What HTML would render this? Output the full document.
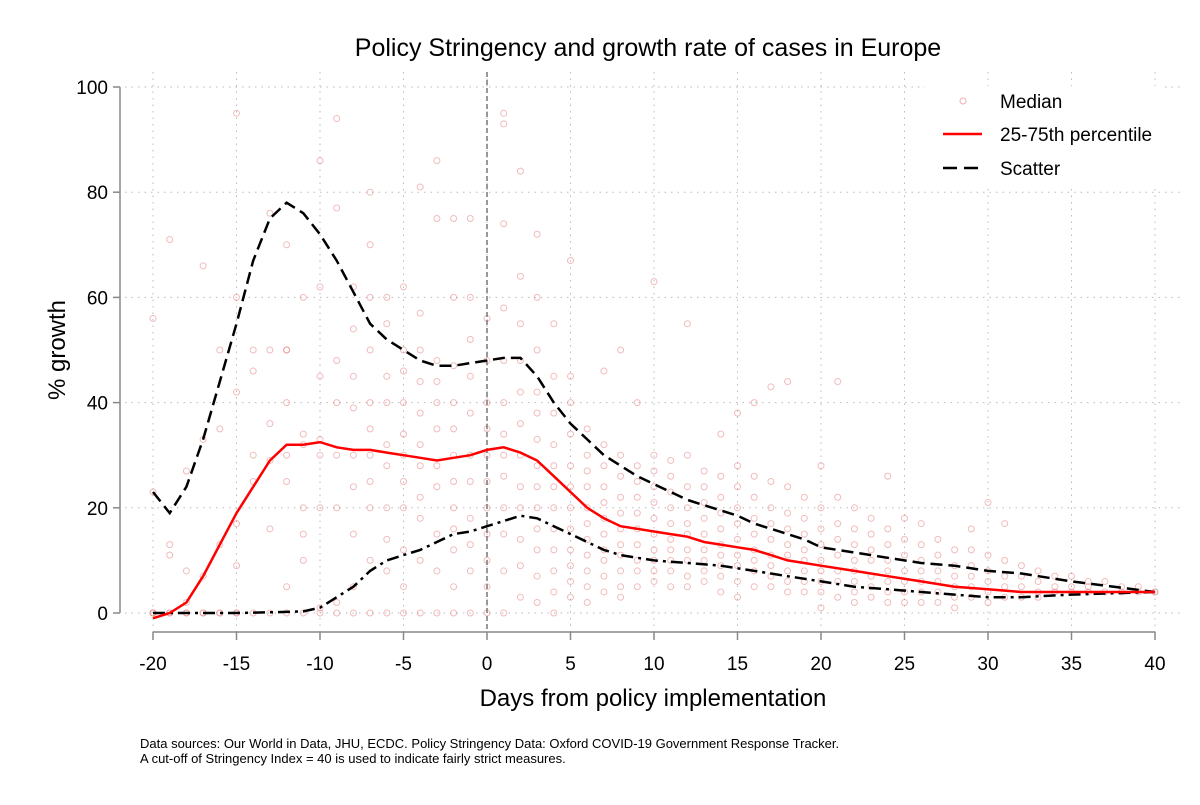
<!DOCTYPE html>
<html><head><meta charset="utf-8"><style>
body{margin:0;background:#fff;width:1200px;height:800px;overflow:hidden}
svg text{font-family:"Liberation Sans",sans-serif}
</style></head><body>
<svg id="c" width="1200" height="800"></svg>
<script>
const medianX=[-20,-19,-18,-17,-16,-15,-14,-13,-12,-11,-10,-9,-8,-7,-6,-5,-4,-3,-2,-1,0,1,2,3,4,5,6,7,8,9,10,11,12,13,14,15,16,17,18,19,20,22,24,26,28,30,32,35,40];
const medianY=[-1,0,2,7,13,19,24,29,32,32,32.5,31.5,31,31,30.5,30,29.5,29,29.5,30,31,31.5,30.5,29,26,23,20,18,16.5,16,15.5,15,14.5,13.5,13,12.5,12,11,10,9.5,9,8,7,6,5,4.5,4,4,4];
const upperX=[-20,-19,-18,-17,-16,-15,-14,-13,-12,-11,-10,-9,-8,-7,-6,-5,-4,-3,-2,-1,0,1,2,3,4,5,6,7,8,9,10,11,12,13,14,15,16,17,18,19,20,22,24,26,28,30,32,35,40];
const upperY=[23,19,24,33,44,55,67,75,78,76,72,67,61,55,52,50,48,47,47,47.5,48,48.5,48.5,45,40,36,33,30,28,26,24.5,23,21.5,20.5,19.5,18.5,17,16,15,14,12.5,11.5,10.5,9.5,9,8,7.5,6,4];
const lowerX=[-20,-15,-12,-11,-10,-9,-8,-7,-6,-5,-4,-3,-2,-1,0,1,2,3,4,5,6,7,8,9,10,12,14,16,18,20,22,24,26,28,30,32,35,40];
const lowerY=[0,0,0.2,0.3,1,3,5,8,10,11,12,13.5,15,15.5,16.5,17.5,18.5,18,16.5,15,13.5,12,11,10.5,10,9.5,9,8,7,6,5,4.5,4,3.5,3,3,3.5,4];
const scatterDays=[];const scatterVals=[];
const perDay={
"-20":[0,0,56,0,23],"-19":[0,71,13,11,0],"-18":[0,27,8,0,2],"-17":[0,66,7,0,33],"-16":[0,50,35,13,0],"-15":[95,0,60,42,17,9,0],"-14":[50,46,25,30,0],"-13":[50,76,36,16,0,29],"-12":[50,50,70,30,5,0,40,25],"-11":[34,32,15,10,0,60,20],"-10":[86,62,33,30,20,0,1,45],"-9":[94,77,48,40,30,20,2,0],"-8":[62,54,45,39,30,24,15,5,0],"-7":[80,70,60,50,40,35,30,25,20,10,0],"-6":[60,55,45,40,32,28,20,14,8,0],"-5":[62,50,46,40,34,30,25,20,12,5,0],"-4":[81,57,50,44,38,32,28,22,18,10,0],"-3":[86,75,48,44,40,35,28,24,15,8,0],"-2":[75,60,47,40,35,30,25,20,16,12,5,0],"-1":[75,60,52,45,38,30,25,18,13,8,0],
"0":[56,48,40,35,30,25,20,15,10,5,0],"1":[95,93,74,58,48,40,34,30,26,20,15,8,0],"2":[84,64,55,48,42,36,30,24,20,14,9,3],"3":[72,60,50,42,38,33,28,24,20,16,12,7,2],"4":[55,45,38,32,28,24,20,16,12,8,4,0],"5":[67,45,40,34,28,24,20,16,12,9,6,3],"6":[35,30,27,24,20,17,14,11,8,5,2],"7":[46,32,28,24,21,18,15,12,10,7,4],"8":[50,30,26,22,19,16,13,11,8,5,3],"9":[40,28,25,22,19,16,13,10,8,5],"10":[63,30,27,24,21,18,15,12,10,8,6],"11":[29,26,23,20,17,14,12,10,8,5],"12":[55,30,24,20,17,15,12,10,7,5],"13":[27,24,21,18,15,12,10,8,6],"14":[34,26,22,19,16,13,11,9,7,4],"15":[38,28,24,20,17,14,11,9,6,3],"16":[40,26,22,18,15,12,10,8,5],"17":[43,25,20,17,14,11,9,7,5],"18":[44,24,19,16,13,11,8,6,4],"19":[22,18,15,12,10,8,6,4],"20":[28,20,16,13,10,8,6,4,1],"21":[44,22,17,14,11,8,6,3],"22":[20,16,13,10,8,6,4,2],"23":[18,15,12,10,7,5,3],"24":[26,16,13,10,8,6,4,2],"25":[18,14,11,8,6,4,2],"26":[17,13,10,8,6,4,2],"27":[14,11,8,6,4,2],"28":[12,9,7,5,3,1],"29":[16,12,9,7,5,3],"30":[21,11,8,6,4,2],"31":[17,10,7,5,3],"32":[9,7,5,3],"33":[8,6,4,3],"34":[7,5,4],"35":[7,5,4],"36":[6,5,4],"37":[6,4],"38":[5,4],"39":[5,4],"40":[4,4]};
for(const k in perDay){for(const v of perDay[k]){scatterDays.push(+k);scatterVals.push(v);}}
const xTicks=[-20,-15,-10,-5,0,5,10,15,20,25,30,35,40];
const yTicks=[0,20,40,60,80,100];

const NS="http://www.w3.org/2000/svg",svg=document.getElementById('c');
const X=d=>153+(d+20)*(1155-153)/60, Y=v=>613-v*5.26;
function mk(t,a,p){const e=document.createElementNS(NS,t);for(const k in a)e.setAttribute(k,a[k]);(p||svg).appendChild(e);return e;}
// grid
for(const t of yTicks){const l=mk('line',{x1:125,x2:1180,y1:Y(t),y2:Y(t),stroke:'#bbb','stroke-dasharray':'1.5 5'});

}
for(const t of xTicks){const l=mk('line',{x1:X(t),x2:X(t),y1:Y(100)-15,y2:632,stroke:'#bbb','stroke-dasharray':'1.5 5'});

}
// scatter
for(let i=0;i<scatterDays.length;i++){const c=mk('circle',{cx:X(scatterDays[i]),cy:Y(scatterVals[i]),r:3,fill:'none',stroke:'rgba(230,120,120,0.5)','stroke-width':1});

}
// zero line
mk('line',{x1:X(0),x2:X(0),y1:Y(100)-15,y2:632,stroke:'#777','stroke-width':1.5,'stroke-dasharray':'5 3'});
function path(xs,ys,attrs,name){const d=xs.map((x,i)=>(i?'L':'M')+X(x).toFixed(1)+','+Y(ys[i]).toFixed(1)).join('');
const p=mk('path',Object.assign({d:d,fill:'none'},attrs));

}
path(upperX,upperY,{stroke:'#000','stroke-width':2.5,'stroke-dasharray':'12 6'},'upper-quartile-line');
path(lowerX,lowerY,{stroke:'#000','stroke-width':2.5,'stroke-dasharray':'12 5 3 5'},'lower-quartile-line');
path(medianX,medianY,{stroke:'#f00','stroke-width':2.5},'median-line');
// axes
mk('line',{x1:120,x2:120,y1:Y(100),y2:Y(0),stroke:'#888','stroke-width':1.5});
mk('line',{x1:X(-20),x2:X(40),y1:632,y2:632,stroke:'#888','stroke-width':1.5});
for(const t of yTicks){mk('line',{x1:113,x2:120,y1:Y(t),y2:Y(t),stroke:'#888','stroke-width':1.5});
const e=mk('text',{x:108,y:Y(t)+7,'text-anchor':'end','font-size':19});e.textContent=t;

}
for(const t of xTicks){mk('line',{x1:X(t),x2:X(t),y1:632,y2:640,stroke:'#888','stroke-width':1.5});
const e=mk('text',{x:X(t),y:670,'text-anchor':'middle','font-size':19});e.textContent=t;

}
</script>
<svg style="position:absolute;left:0;top:0" width="1200" height="800">
<text x="648" y="56" text-anchor="middle" font-size="25">Policy Stringency and growth rate of cases in Europe</text>
<text x="653" y="706" text-anchor="middle" font-size="24">Days from policy implementation</text>
<text transform="translate(65,350) rotate(-90)" text-anchor="middle" font-size="24">% growth</text>
<g>
<rect x="925" y="86" width="240" height="102" fill="#fff"/>
<circle cx="963" cy="101" r="3" fill="none" stroke="rgba(230,120,120,0.6)"/>
<text x="1000" y="108" font-size="19">Median</text>
<line x1="943" x2="982" y1="134" y2="134" stroke="#f00" stroke-width="2.5"/>
<text x="1000" y="141" font-size="19">25-75th percentile</text>
<line x1="943" x2="982" y1="168" y2="168" stroke="#000" stroke-width="2.5" stroke-dasharray="14 7"/>
<text x="1000" y="175" font-size="19">Scatter</text>
</g>
<text x="140" y="748" font-size="13">Data sources: Our World in Data, JHU, ECDC. Policy Stringency Data: Oxford COVID-19 Government Response Tracker.</text>
<text x="140" y="763" font-size="13">A cut-off of Stringency Index = 40 is used to indicate fairly strict measures.</text>
</svg>
</body></html>
